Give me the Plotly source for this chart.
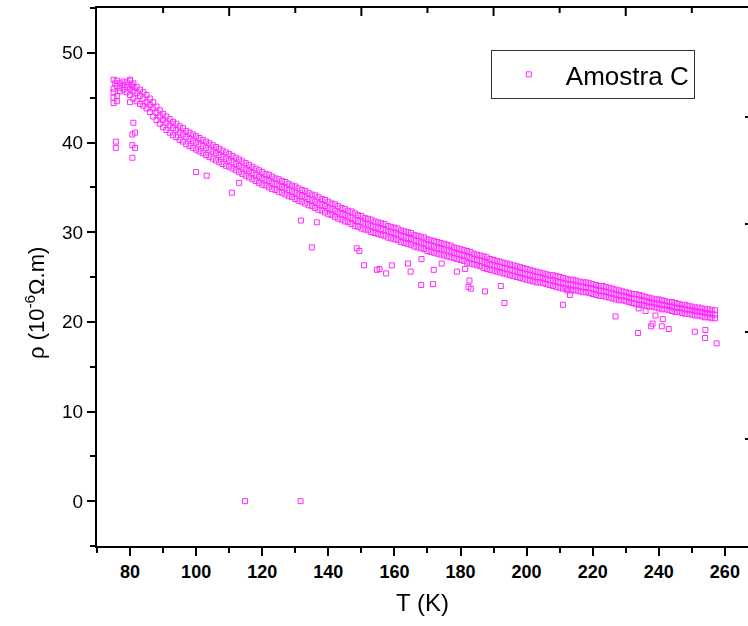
import plotly.graph_objects as go

# ---- data ----
T_band = [75, 76, 77, 78, 79, 80, 81, 82, 83, 84, 85, 86, 87, 88, 89, 90, 91, 92, 93, 94,
          95, 96, 97, 98, 99, 100, 101, 102, 103, 104, 105, 106, 107, 108, 109, 110, 111, 112, 113, 114,
          115, 116, 117, 118, 119, 120, 121, 122, 123, 124, 125, 126, 127, 128, 129, 130, 131, 132, 133, 134,
          135, 136, 137, 138, 139, 140, 141, 142, 143, 144, 145, 146, 147, 148, 149, 150, 151, 152, 153, 154,
          155, 156, 157, 158, 159, 160, 161, 162, 163, 164, 165, 166, 167, 168, 169, 170, 171, 172, 173, 174,
          175, 176, 177, 178, 179, 180, 181, 182, 183, 184, 185, 186, 187, 188, 189, 190, 191, 192, 193, 194,
          195, 196, 197, 198, 199, 200, 201, 202, 203, 204, 205, 206, 207, 208, 209, 210, 211, 212, 213, 214,
          215, 216, 217, 218, 219, 220, 221, 222, 223, 224, 225, 226, 227, 228, 229, 230, 231, 232, 233, 234,
          235, 236, 237, 238, 239, 240, 241, 242, 243, 244, 245, 246, 247, 248, 249, 250, 251, 252, 253, 254,
          255, 256, 257]

rho_mid = [46.0, 46.3, 46.1, 46.4, 46.2, 46.0, 45.7, 45.5, 45.2, 44.9, 44.5, 44.2, 43.8, 43.3, 42.9, 42.5, 42.2, 41.9, 41.6, 41.4,
           41.1, 40.9, 40.6, 40.4, 40.2, 40.0, 39.8, 39.6, 39.4, 39.2, 39.0, 38.8, 38.6, 38.4, 38.2, 38.0, 37.8, 37.6, 37.4, 37.2,
           37.0, 36.8, 36.6, 36.4, 36.2, 36.0, 35.85, 35.7, 35.5, 35.35, 35.2, 35.05, 34.9, 34.7, 34.55, 34.4, 34.2, 34.05, 33.9, 33.7,
           33.55, 33.4, 33.2, 33.05, 32.9, 32.7, 32.55, 32.4, 32.2, 32.05, 31.9, 31.75, 31.6, 31.4, 31.25, 31.1, 30.95, 30.85, 30.7, 30.6,
           30.5, 30.35, 30.25, 30.1, 30.0, 29.9, 29.75, 29.6, 29.5, 29.35, 29.25, 29.1, 29.0, 28.85, 28.75, 28.6, 28.5, 28.4, 28.25, 28.15,
           28.05, 27.95, 27.85, 27.7, 27.6, 27.5, 27.4, 27.25, 27.15, 27.0, 26.9, 26.8, 26.65, 26.55, 26.4, 26.3, 26.2, 26.1, 26.0, 25.9,
           25.8, 25.7, 25.6, 25.5, 25.4, 25.3, 25.2, 25.1, 25.0, 24.95, 24.85, 24.75, 24.65, 24.6, 24.5, 24.4, 24.3, 24.25, 24.15, 24.1,
           24.05, 23.95, 23.9, 23.8, 23.75, 23.7, 23.6, 23.5, 23.4, 23.35, 23.25, 23.15, 23.05, 22.95, 22.9, 22.8, 22.7, 22.6, 22.55, 22.45,
           22.4, 22.3, 22.2, 22.15, 22.05, 22.0, 21.9, 21.85, 21.75, 21.7, 21.6, 21.55, 21.5, 21.4, 21.35, 21.3, 21.2, 21.15, 21.1, 21.0,
           20.95, 20.9, 20.8]

rho_hi = [47.0, 46.9, 46.6, 46.8, 46.7, 46.9, 46.6, 46.2, 45.9, 45.6, 45.3, 44.9, 44.5, 44.0, 43.6, 43.2, 42.9, 42.6, 42.3, 42.1,
          41.8, 41.6, 41.3, 41.1, 40.9, 40.7, 40.5, 40.3, 40.1, 39.9, 39.7, 39.5, 39.3, 39.1, 38.9, 38.7, 38.5, 38.3, 38.1, 37.9,
          37.7, 37.5, 37.3, 37.1, 36.9, 36.7, 36.5, 36.4, 36.2, 36.0, 35.9, 35.7, 35.6, 35.4, 35.2, 35.1, 34.9, 34.7, 34.6, 34.4,
          34.2, 34.1, 33.9, 33.7, 33.6, 33.4, 33.2, 33.1, 32.9, 32.7, 32.6, 32.4, 32.3, 32.1, 31.9, 31.8, 31.6, 31.5, 31.4, 31.2,
          31.1, 31.0, 30.9, 30.7, 30.6, 30.5, 30.4, 30.2, 30.1, 30.0, 29.9, 29.7, 29.6, 29.5, 29.4, 29.2, 29.1, 29.0, 28.9, 28.8,
          28.7, 28.6, 28.5, 28.3, 28.2, 28.1, 28.0, 27.9, 27.8, 27.6, 27.5, 27.4, 27.3, 27.2, 27.0, 26.9, 26.8, 26.7, 26.6, 26.5,
          26.4, 26.3, 26.2, 26.1, 26.0, 25.9, 25.8, 25.7, 25.6, 25.5, 25.4, 25.3, 25.2, 25.2, 25.1, 25.0, 24.9, 24.8, 24.7, 24.7,
          24.6, 24.5, 24.4, 24.4, 24.3, 24.2, 24.1, 24.0, 24.0, 23.9, 23.8, 23.7, 23.6, 23.5, 23.4, 23.3, 23.2, 23.1, 23.1, 23.0,
          22.9, 22.8, 22.7, 22.6, 22.5, 22.5, 22.4, 22.3, 22.2, 22.2, 22.1, 22.0, 21.9, 21.9, 21.8, 21.7, 21.6, 21.6, 21.5, 21.4,
          21.4, 21.3, 21.3]

rho_lo = [44.4, 45.2, 45.7, 45.9, 45.6, 44.5, 44.9, 44.6, 44.3, 44.1, 43.8, 43.4, 42.9, 42.5, 42.1, 41.7, 41.4, 41.1, 40.8, 40.6,
          40.3, 40.1, 39.8, 39.6, 39.4, 39.2, 39.0, 38.8, 38.6, 38.4, 38.2, 38.0, 37.8, 37.6, 37.4, 37.3, 37.1, 36.9, 36.7, 36.5,
          36.3, 36.1, 35.9, 35.7, 35.5, 35.3, 35.2, 35.0, 34.8, 34.7, 34.5, 34.4, 34.2, 34.0, 33.9, 33.7, 33.5, 33.4, 33.2, 33.0,
          32.9, 32.7, 32.5, 32.4, 32.2, 32.0, 31.9, 31.7, 31.5, 31.4, 31.2, 31.1, 30.9, 30.7, 30.6, 30.4, 30.3, 30.2, 30.0, 29.9,
          29.8, 29.7, 29.6, 29.4, 29.3, 29.2, 29.1, 28.9, 28.8, 28.7, 28.6, 28.4, 28.3, 28.2, 28.1, 27.9, 27.8, 27.7, 27.6, 27.5,
          27.4, 27.3, 27.2, 27.1, 27.0, 26.9, 26.8, 26.6, 26.5, 26.4, 26.3, 26.2, 26.0, 25.9, 25.8, 25.7, 25.6, 25.5, 25.4, 25.3,
          25.2, 25.1, 25.0, 24.9, 24.8, 24.7, 24.6, 24.5, 24.4, 24.4, 24.3, 24.2, 24.1, 24.0, 23.9, 23.8, 23.7, 23.7, 23.6, 23.5,
          23.5, 23.4, 23.3, 23.3, 23.2, 23.1, 23.0, 22.9, 22.9, 22.8, 22.7, 22.6, 22.5, 22.4, 22.4, 22.3, 22.2, 22.1, 22.0, 21.9,
          21.9, 21.8, 21.7, 21.7, 21.6, 21.5, 21.4, 21.4, 21.3, 21.2, 21.1, 21.1, 21.0, 20.9, 20.9, 20.8, 20.7, 20.7, 20.6, 20.5,
          20.5, 20.4, 20.4]

T_start = [75, 75, 76, 80, 81, 80, 75.5, 80.5]
rho_start = [45.0, 45.6, 44.6, 45.3, 46.2, 47.0, 46.6, 46.4]

T_out = [75.7, 75.7, 81.0, 80.7, 81.5, 80.7, 81.5, 80.7, 100.0, 103.2, 110.8, 113.0, 131.7, 136.5, 135.0,
         148.6, 149.4, 150.8, 154.7, 155.5, 157.5, 159.2, 164.1, 164.9, 168.1, 168.2, 171.7, 171.9, 174.3,
         178.9, 181.4, 182.7, 182.4, 183.1, 187.4, 192.2, 193.3, 211.0, 213.1, 212.3, 226.9, 233.7, 233.9,
         236.0, 237.7, 238.1, 239.0, 240.9, 241.2, 243.0, 250.9, 254.1, 254.0, 257.5, 114.8, 131.6]
rho_out = [40.1, 39.4, 42.2, 40.9, 41.1, 39.7, 39.4, 38.3, 36.7, 36.3, 34.4, 35.5, 31.3, 31.1, 28.3,
           28.2, 27.9, 26.3, 25.8, 25.9, 25.4, 26.3, 26.5, 25.6, 24.1, 27.0, 24.2, 25.8, 26.5,
           25.6, 25.9, 24.6, 23.9, 23.7, 23.4, 24.0, 22.1, 21.9, 23.0, 23.5, 20.6, 18.75, 21.5,
           21.2, 19.5, 19.8, 20.7, 19.5, 20.3, 19.2, 18.9, 19.1, 18.2, 17.6, 0.0, 0.0]

# frame ticks on the top and right edges (values in data units)
top_major = [110, 150, 190, 230]
top_minor = [90, 130, 170, 210, 250]
right_ticks = [6.9, 18.9, 30.9, 42.9]

x_all = T_band + T_band + T_band + T_start + T_out
y_all = rho_mid + rho_hi + rho_lo + rho_start + rho_out

FONT = "Arial, Liberation Sans, sans-serif"
MAG = "#FF00FF"
PLOT_H = 538  # plot area height in px (626 - 8 - 80)

fig = go.Figure()
fig.add_trace(go.Scatter(
    x=x_all, y=y_all, mode="markers", name="Amostra C",
    marker=dict(symbol="square-open", size=5, color=MAG, line=dict(width=1, color=MAG)),
    opacity=0.85,
))
# invisible point hosting the right frame axis
fig.add_trace(go.Scatter(x=T_out[:1], y=rho_out[:1], yaxis="y2", mode="markers",
                         marker=dict(opacity=0), showlegend=False, hoverinfo="skip"))

# top frame ticks (inward), positioned by the x data axis
for v, ln in [(v, 8) for v in top_major] + [(v, 5) for v in top_minor]:
    fig.add_shape(type="line", xref="x", yref="paper", x0=v, x1=v,
                  y0=1, y1=1 - ln / PLOT_H, line=dict(color="black", width=2))

fig.add_annotation(text="ρ (10<sup>-6</sup>Ω.m)", textangle=-90,
                   xref="paper", yref="paper", x=(35 - 97) / 651, y=0.5,
                   xanchor="center", yanchor="middle", yshift=-26, showarrow=False,
                   font=dict(size=22, family=FONT, color="black"))

fig.update_layout(
    width=748, height=626,
    margin=dict(l=97, r=0, t=8, b=80, pad=0),
    paper_bgcolor="white", plot_bgcolor="white",
    font=dict(family=FONT, color="black"),
    showlegend=True,
    legend=dict(x=0.605, y=0.922, xanchor="left", yanchor="top",
                bordercolor="#333333", borderwidth=1, bgcolor="white",
                font=dict(size=26, family=FONT), itemwidth=64),
    xaxis=dict(type="linear", range=[70, 267], showgrid=False, zeroline=False,
               showline=True, mirror=True, linecolor="black", linewidth=2,
               ticks="outside", ticklen=8, tickwidth=2, tickcolor="black",
               tick0=80, dtick=20,
               minor=dict(ticks="outside", ticklen=5, tickwidth=2, tickcolor="black", dtick=10, tick0=70),
               tickfont=dict(size=18, weight="bold", family=FONT),
               title=dict(text="T (K)", font=dict(size=24, family=FONT), standoff=14)),
    yaxis=dict(type="linear", range=[-5, 55], showgrid=False, zeroline=False,
               showline=True, linecolor="black", linewidth=2,
               ticks="outside", ticklen=8, tickwidth=2, tickcolor="black",
               tick0=0, dtick=10,
               minor=dict(ticks="outside", ticklen=5, tickwidth=2, tickcolor="black", dtick=5, tick0=-5),
               tickfont=dict(size=19, family=FONT)),
    yaxis2=dict(type="linear", range=[-5, 55], overlaying="y", side="right",
                anchor="free", position=1,
                showgrid=False, zeroline=False, showline=False,
                ticks="inside", ticklen=3, tickwidth=2, tickcolor="black",
                tickmode="array", tickvals=right_ticks, showticklabels=False),
)

fig.write_html("out.html")
